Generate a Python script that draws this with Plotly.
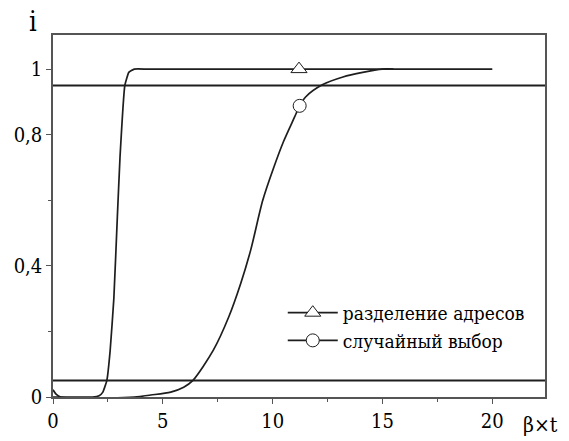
import plotly.graph_objects as go

# Fraction of nodes with an assigned address, i, versus normalised time beta*t
address_split_x = [0, 1.8, 2.1, 2.27, 2.45, 2.6, 2.77, 2.93, 3.05, 3.27, 3.45, 3.7, 4.3, 11.2, 20]
address_split_y = [0, 0, 0.004, 0.015, 0.05, 0.14, 0.30, 0.55, 0.73, 0.95, 0.99, 1.0, 1.0, 1.0, 1.0]
address_split_marker_x = 11.2

random_choice_x = [0, 0.15, 0.35, 3.7, 4.45, 5.36, 5.95, 6.36, 7.3, 8.0, 8.55, 9.0, 9.55,
                   10.05, 10.5, 11.0, 11.23, 11.5, 12.26, 13.2, 14.1, 15.0, 15.5]
random_choice_y = [0.022, 0.008, 0, 0, 0.006, 0.015, 0.03, 0.05, 0.143, 0.244, 0.347, 0.448, 0.60,
                   0.70, 0.78, 0.854, 0.888, 0.915, 0.952, 0.976, 0.99, 1.0, 1.0]
random_choice_marker_x = 11.23

# Threshold levels drawn across the whole plot
threshold_levels = [0.05, 0.95]

x_range = [0, 22.4]
y_range = [0, 1.104]
y_tick_vals = [0, 0.4, 0.8, 1]
y_tick_text = ["0", "0,4", "0,8", "1"]
x_tick_vals = [0, 5, 10, 15, 20]

FONT = "'DejaVu Serif Condensed', 'DejaVu Serif', serif"
INK = "#1e1e1e"

fig = go.Figure()

for level in threshold_levels:
    fig.add_trace(go.Scatter(
        x=x_range, y=[level, level], mode="lines",
        line=dict(color=INK, width=2), showlegend=False, hoverinfo="skip",
    ))


def add_series(xs, ys, mark_x, name, symbol, size, smoothing):
    # the curve itself
    fig.add_trace(go.Scatter(
        x=xs, y=ys, mode="lines", showlegend=False, legendgroup=name,
        line=dict(color=INK, width=1.7, shape="spline", smoothing=smoothing),
    ))
    # its single marker, which also carries the legend entry
    k = xs.index(mark_x)
    fig.add_trace(go.Scatter(
        x=[xs[k]], y=[ys[k]], mode="lines+markers", name=name, legendgroup=name,
        line=dict(color=INK, width=1.7),
        marker=dict(symbol=symbol, color="white", size=size,
                    line=dict(color=INK, width=1)),
    ))


add_series(address_split_x, address_split_y, address_split_marker_x,
           "разделение адресов", "triangle-up", 14, 0.35)
add_series(random_choice_x, random_choice_y, random_choice_marker_x,
           "случайный выбор", "circle", 13, 0.8)

axis_common = dict(
    showline=True, linecolor="#555555", linewidth=1.5, mirror=True,
    showgrid=False, zeroline=False, ticks="outside", ticklen=5,
    tickcolor="#555555", tickwidth=1.3,
    tickfont=dict(family=FONT, size=20, color="black"),
)

fig.update_xaxes(
    range=x_range, tickvals=x_tick_vals,
    minor=dict(tick0=0, dtick=2.5, ticks="outside", ticklen=3, tickcolor="#555555"),
    **axis_common,
)
fig.update_yaxes(
    range=y_range, tickvals=y_tick_vals, ticktext=y_tick_text,
    minor=dict(tick0=0, dtick=0.2, ticks="outside", ticklen=3, tickcolor="#555555"),
    **axis_common,
)

fig.add_annotation(text="i", xref="paper", yref="paper", x=-0.04, y=1.0,
                   xanchor="center", yanchor="bottom", yshift=-4, showarrow=False,
                   font=dict(family=FONT, size=27, color="black"))
fig.add_annotation(text="β×t", xref="paper", yref="paper", x=0.99, y=0,
                   xanchor="center", yanchor="middle", yshift=-28, showarrow=False,
                   font=dict(family=FONT, size=21, color="black"))

fig.update_layout(
    width=569, height=441,
    margin=dict(l=53, r=24, t=35, b=44, autoexpand=False),
    plot_bgcolor="white", paper_bgcolor="white",
    font=dict(family=FONT, color="black"),
    legend=dict(x=0.467, y=0.285, xanchor="left", yanchor="top",
                bgcolor="rgba(0,0,0,0)", itemwidth=50,
                font=dict(family=FONT, size=19, color="black"),
                tracegroupgap=0),
)

fig.write_html("out.html")
